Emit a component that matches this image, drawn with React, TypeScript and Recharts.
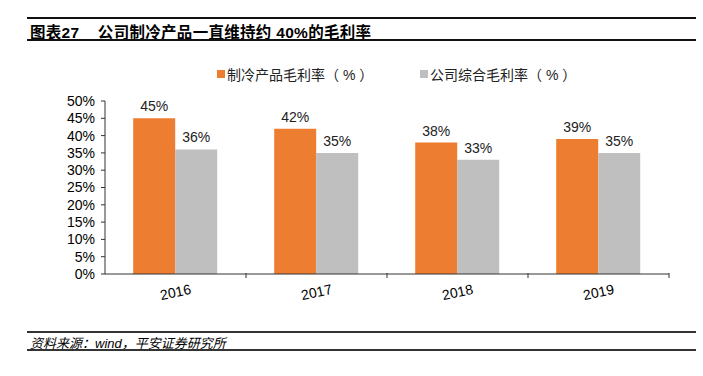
import React from 'react';
import { BarChart, Bar, XAxis, YAxis, Legend, LabelList } from 'recharts';

const years = ['2016', '2017', '2018', '2019'];
const productMargin = [45, 42, 38, 39];
const companyMargin = [36, 35, 33, 35];
const yTicks = [0, 5, 10, 15, 20, 25, 30, 35, 40, 45, 50];

const data = years.map((y, i) => ({ year: y, product: productMargin[i], company: companyMargin[i] }));

const FONT = '"Liberation Sans", Arial, "Noto Sans CJK SC", sans-serif';
const ORANGE = '#ED7D31';
const GRAY = '#BFBFBF';

const XTick = (props: any) => {
    const { x, y, payload } = props;
    const off = payload && payload.offset ? payload.offset : 0;
    return (
        <g>
            <line x1={x + off} y1={y - 4} x2={x + off} y2={y - 9} stroke="#333" strokeWidth={1} />
            <text x={x} y={y + 15} textAnchor="middle" fontSize={14} fill="#000" fontFamily={FONT}
                transform={`rotate(-12, ${x}, ${y + 10})`}>{payload.value}</text>
        </g>
    );
};

const LegendBox = () => (
    <div style={{ display: 'flex', fontFamily: FONT, fontSize: 14, color: '#222' }}>
        <div style={{ position: 'absolute', left: 217, top: 0, display: 'flex', alignItems: 'center', whiteSpace: 'pre' }}>
            <span style={{ width: 8, height: 8, background: ORANGE, marginRight: 2, display: 'inline-block' }} />
            {'制冷产品毛利率（ % ）'}
        </div>
        <div style={{ position: 'absolute', left: 420, top: 0, display: 'flex', alignItems: 'center', whiteSpace: 'pre' }}>
            <span style={{ width: 8, height: 8, background: GRAY, marginRight: 2, display: 'inline-block' }} />
            {'公司综合毛利率（ % ）'}
        </div>
    </div>
);

const hr = (top: number) => (
    <div style={{ position: 'absolute', left: 27, width: 669, top, height: 2, background: '#111' }} />
);

export default function App() {
    return (
        <div style={{ position: 'absolute', left: 0, top: 0, width: 703, height: 376, background: '#fff', fontFamily: FONT }}>
            {hr(17)}
            <div style={{ position: 'absolute', left: 30, top: 20, fontSize: 15.5, fontWeight: 'bold', color: '#000', whiteSpace: 'pre', letterSpacing: 0.3 }}>
                {'图表27    公司制冷产品一直维持约 40%的毛利率'}
            </div>
            {hr(39)}
            <BarChart width={703} height={376} data={data} barGap={0} barCategoryGap="20%"
                margin={{ top: 101, right: 34, left: 55, bottom: 72 }}>
                <XAxis dataKey="year" height={30} axisLine={{ stroke: '#333' }} tickLine={false} tick={<XTick />} interval={0} />
                <YAxis width={50} domain={[0, 50]} ticks={yTicks} tickFormatter={(v) => `${v}%`} interval={0}
                    axisLine={{ stroke: '#333' }} tickLine={{ stroke: '#333' }} tickSize={4}
                    tick={{ fontSize: 14, fill: '#000', fontFamily: FONT, dx: -4 }} />
                <Legend verticalAlign="top" content={<LegendBox />} wrapperStyle={{ top: 64, left: 0, width: 703 }} />
                <Bar dataKey="product" fill={ORANGE} isAnimationActive={false}>
                    <LabelList dataKey="product" position="top" offset={7} formatter={(v: any) => `${v}%`}
                        style={{ fontSize: 14, fill: '#222', fontFamily: FONT }} />
                </Bar>
                <Bar dataKey="company" fill={GRAY} isAnimationActive={false}>
                    <LabelList dataKey="company" position="top" offset={7} formatter={(v: any) => `${v}%`}
                        style={{ fontSize: 14, fill: '#222', fontFamily: FONT }} />
                </Bar>
            </BarChart>
            <div style={{ position: 'absolute', left: 27, width: 669, top: 331, height: 1.5, background: '#333' }} />
            <div style={{ position: 'absolute', left: 30, top: 333, fontSize: 13, fontStyle: 'italic', color: '#000' }}>
                资料来源：wind，平安证券研究所
            </div>
            <div style={{ position: 'absolute', left: 27, width: 669, top: 349, height: 1.5, background: '#333' }} />
        </div>
    );
}
